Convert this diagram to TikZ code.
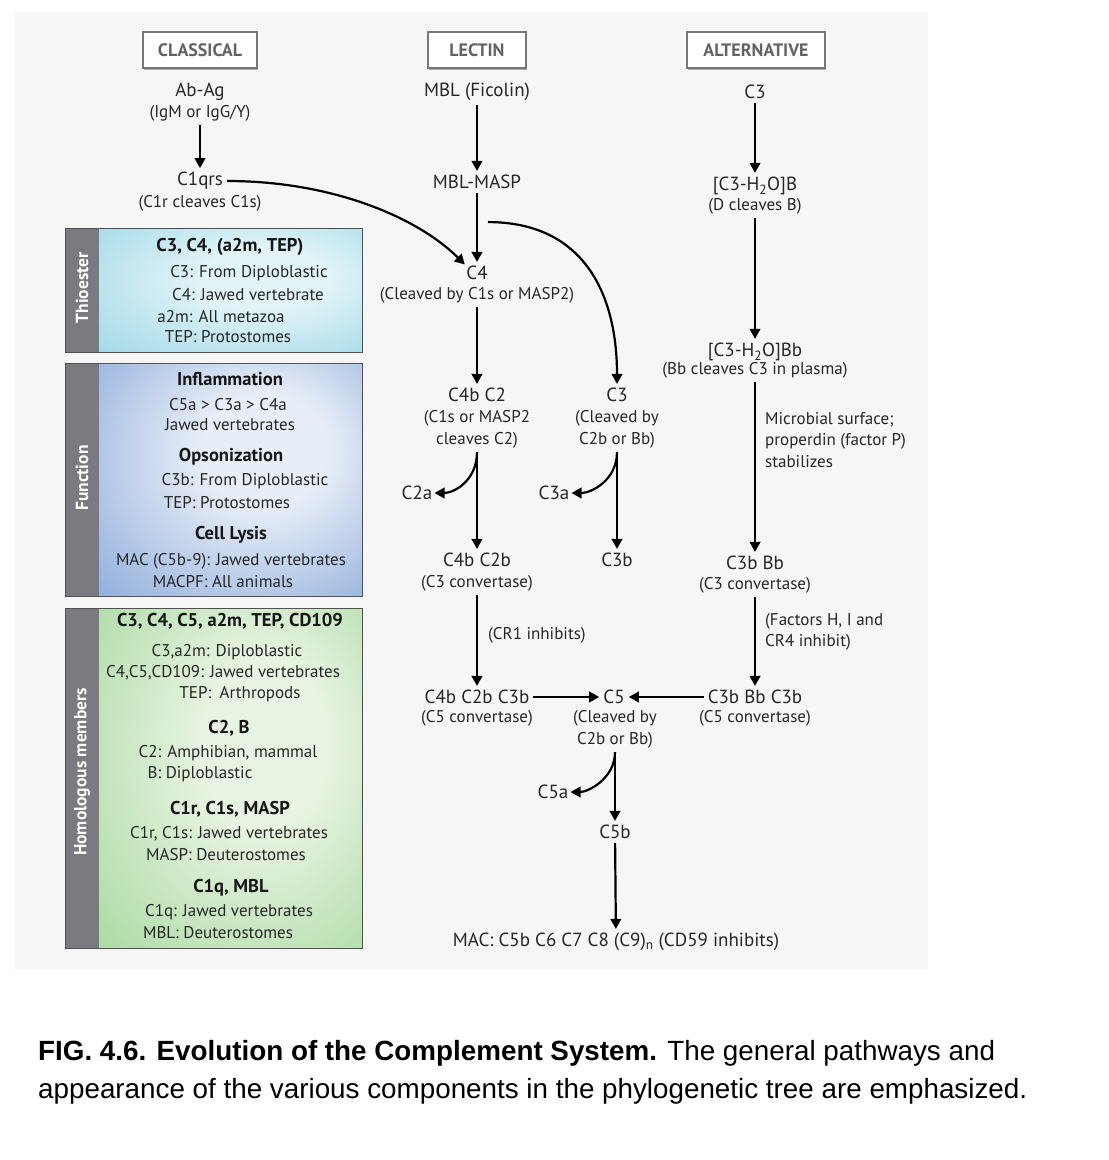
\documentclass[tikz,border=0pt]{standalone}
\usepackage{fontspec}
\setmainfont{PT Sans}
\newfontfamily\captionfont{Liberation Sans}
\usetikzlibrary{arrows.meta,shadows}

\definecolor{ink}{HTML}{262626}
\definecolor{titleink}{HTML}{161616}
\definecolor{hdrink}{HTML}{636363}
\definecolor{hdrline}{HTML}{777777}
\definecolor{panelbg}{HTML}{F6F6F6}
\definecolor{stripgray}{HTML}{7A7A80}
\definecolor{boxline}{HTML}{505050}
\definecolor{thioEdge}{HTML}{6CC3DB}
\definecolor{thioCore}{HTML}{E2F4F8}
\definecolor{funcEdge}{HTML}{4A7BC4}
\definecolor{funcCore}{HTML}{E8EEF8}
\definecolor{homEdge}{HTML}{78C56E}
\definecolor{homCore}{HTML}{E8F4E2}
\colorlet{thioMid}{thioEdge!55!thioCore}
\colorlet{funcMid}{funcEdge!55!funcCore}
\colorlet{homMid}{homEdge!55!homCore}

% soft glow: pale core, saturated rim
\pgfdeclareradialshading{thioglow}{\pgfpoint{8bp}{6bp}}{color(0bp)=(thioCore); color(12bp)=(thioCore); color(40bp)=(thioMid); color(64bp)=(thioEdge)}
\pgfdeclareradialshading{funcglow}{\pgfpoint{8bp}{8bp}}{color(0bp)=(funcCore); color(12bp)=(funcCore); color(40bp)=(funcMid); color(64bp)=(funcEdge)}
\pgfdeclareradialshading{homglow}{\pgfpoint{8bp}{6bp}}{color(0bp)=(homCore); color(12bp)=(homCore); color(40bp)=(homMid); color(64bp)=(homEdge)}

\begin{document}
\begin{tikzpicture}[x=1pt,y=-1pt,
  mainlbl/.style={font=\fontsize{19}{22}\selectfont, text=ink, inner sep=0pt},
  sublbl/.style={font=\fontsize{17}{22}\selectfont, text=ink, inner sep=0pt, align=center},
  sidenote/.style={font=\fontsize{17}{21.5}\selectfont, text=ink, inner sep=0pt, align=left, anchor=west},
  hdrbox/.style={draw=hdrline, line width=1.1pt, fill=white, text=hdrink,
    font=\fontsize{18}{20}\selectfont\bfseries, minimum height=36pt, inner sep=0pt,
    drop shadow={shadow xshift=1.2pt, shadow yshift=-1.5pt, opacity=0.3, fill=black}},
  flow/.style={draw=black, line width=2.2pt, -{Triangle[length=10pt,width=10.5pt]},
    shorten <=4pt, shorten >=4pt},
  boxtxt/.style={font=\fontsize{17}{20}\selectfont, text=ink, inner sep=0pt},
  boxttl/.style={font=\fontsize{18.5}{20}\selectfont\bfseries, text=titleink, inner sep=0pt},
  sidelbl/.style={font=\fontsize{17.5}{20}\selectfont\bfseries, text=white, inner sep=0pt, rotate=90},
  capline/.style={font=\captionfont\fontsize{27.8}{32}\selectfont, text=black, inner sep=0pt, anchor=base west}
]
\useasboundingbox (0,0) rectangle (1109,1160);
\fill[white] (0,0) rectangle (1109,1160);
\fill[panelbg] (15,12) rectangle (928,970);

% ---------- left information panels ----------
\shade[shading=thioglow] (99,228) rectangle (362,352);
\fill[stripgray] (65,228) rectangle (99,352);
\draw[draw=boxline, line width=1pt] (65,228) rectangle (362,352);

\shade[shading=funcglow] (99,363) rectangle (362,596);
\fill[stripgray] (65,363) rectangle (99,596);
\draw[draw=boxline, line width=1pt] (65,363) rectangle (362,596);

\shade[shading=homglow] (99,608) rectangle (362,948);
\fill[stripgray] (65,608) rectangle (99,948);
\draw[draw=boxline, line width=1pt] (65,608) rectangle (362,948);

\node[sidelbl] (sthio) at (82,288) {Thioester};
\node[sidelbl] (sfunc) at (82,478) {Function};
\node[sidelbl] (shom) at (82,772) {Homologous members};

\node[boxttl] (t0) at (230,247) {C3, C4, (a2m, TEP)};
\node[boxtxt] (t1) at (249,273) {C3: From Diploblastic};
\node[boxtxt] (t2) at (248,295) {C4: Jawed vertebrate};
\node[boxtxt] (t3) at (221,317) {a2m: All metazoa};
\node[boxtxt] (t4) at (228,337) {TEP: Protostomes};

\node[boxttl] (f0) at (230,379) {Inflammation};
\node[boxtxt] (f1) at (228,405) {C5a > C3a > C4a};
\node[boxtxt] (f2) at (230,425) {Jawed vertebrates};
\node[boxttl] (f3) at (231,457) {Opsonization};
\node[boxtxt] (f4) at (245,481) {C3b: From Diploblastic};
\node[boxtxt] (f5) at (227,503) {TEP: Protostomes};
\node[boxttl] (f6) at (231,535) {Cell Lysis};
\node[boxtxt] (f7) at (231,561) {MAC (C5b-9): Jawed vertebrates};
\node[boxtxt] (f8) at (223,582) {MACPF: All animals};

\node[boxttl] (h0) at (230,621) {C3, C4, C5, a2m, TEP, CD109};
\node[boxtxt] (h1) at (227,652) {C3,a2m: Diploblastic};
\node[boxtxt] (h2) at (223,673) {C4,C5,CD109: Jawed vertebrates};
\node[boxtxt] (h3) at (240,694) {TEP:\enspace Arthropods};
\node[boxttl] (h4) at (229,728) {C2, B};
\node[boxtxt] (h5) at (228,753) {C2: Amphibian, mammal};
\node[boxtxt] (h6) at (200,774) {B: Diploblastic};
\node[boxttl] (h7) at (230,809) {C1r, C1s, MASP};
\node[boxtxt] (h8) at (229,834) {C1r, C1s: Jawed vertebrates};
\node[boxtxt] (h9) at (226,855) {MASP: Deuterostomes};
\node[boxttl] (h10) at (231,888) {C1q, MBL};
\node[boxtxt] (h11) at (229,912) {C1q: Jawed vertebrates};
\node[boxtxt] (h12) at (218,933) {MBL: Deuterostomes};

% ---------- pathway headers ----------
\node[hdrbox, minimum width=114pt] (hcl) at (200,50) {CLASSICAL};
\node[hdrbox, minimum width=98pt] (hle) at (477,50) {LECTIN};
\node[hdrbox, minimum width=138pt] (hal) at (756,50) {ALTERNATIVE};

% ---------- classical pathway ----------
\node[mainlbl] (abag) at (200,92) {Ab-Ag};
\node[sublbl] (abagS) at (200,113) {(IgM or IgG/Y)};
\node[mainlbl] (c1qrs) at (200,181) {C1qrs};
\node[sublbl] (c1qrsS) at (200,203) {(C1r cleaves C1s)};

% ---------- lectin pathway ----------
\node[mainlbl] (mbl) at (477,92) {MBL (Ficolin)};
\node[mainlbl] (masp) at (477,182) {MBL-MASP};
\node[mainlbl] (c4) at (477,273) {C4};
\node[sublbl] (c4S) at (477,295) {(Cleaved by C1s or MASP2)};
\node[mainlbl] (c4bc2) at (477,395) {C4b C2};
\node[sublbl] (c4bc2S) at (477,429) {(C1s or MASP2\\cleaves C2)};
\node[mainlbl] (c2a) at (417,493) {C2a};
\node[mainlbl] (c4bc2b) at (477,560) {C4b C2b};
\node[sublbl] (c4bc2bS) at (477,583) {(C3 convertase)};
\node[sublbl, anchor=west] (cr1) at (488,635) {(CR1 inhibits)};
\node[mainlbl] (c4bc2bc3b) at (477,697) {C4b C2b C3b};
\node[sublbl] (c4bc2bc3bS) at (477,718) {(C5 convertase)};

\node[mainlbl] (c3l) at (617,395) {C3};
\node[sublbl] (c3lS) at (617,429) {(Cleaved by\\C2b or Bb)};
\node[mainlbl] (c3a) at (554,493) {C3a};
\node[mainlbl] (c3b) at (617,560) {C3b};

% ---------- alternative pathway ----------
\node[mainlbl] (c3alt) at (755,92) {C3};
\node[mainlbl] (c3h2ob) at (755,186) {[C3-H\textsubscript{2}O]B};
\node[sublbl] (c3h2obS) at (755,206) {(D cleaves B)};
\node[mainlbl] (c3h2obb) at (755,352) {[C3-H\textsubscript{2}O]Bb};
\node[sublbl] (c3h2obbS) at (755,370) {(Bb cleaves C3 in plasma)};
\node[sidenote] (microbe) at (765,440) {Microbial surface;\\properdin (factor P)\\stabilizes};
\node[mainlbl] (c3bbb) at (755,563) {C3b Bb};
\node[sublbl] (c3bbbS) at (755,585) {(C3 convertase)};
\node[sidenote] (factors) at (765,632) {(Factors H, I and\\CR4 inhibit)};
\node[mainlbl] (c3bbbc3b) at (755,697) {C3b Bb C3b};
\node[sublbl] (c3bbbc3bS) at (755,718) {(C5 convertase)};

% ---------- terminal pathway ----------
\node[mainlbl] (c5) at (614,697) {C5};
\node[sublbl] (c5S) at (615,729) {(Cleaved by\\C2b or Bb)};
\node[mainlbl] (c5a) at (553,792) {C5a};
\node[mainlbl] (c5b) at (615,832) {C5b};
\node[mainlbl] (mac) at (616,942) {MAC: C5b C6 C7 C8 (C9)\textsubscript{n} (CD59 inhibits)};

% branch points
\coordinate (lsplit) at ([xshift=11pt,yshift=-33pt]masp.south);
\coordinate (c2fork) at ([yshift=-4pt]c4bc2S.south);
\coordinate (c3fork) at ([yshift=-4pt]c3lS.south);
\coordinate (c5fork) at ([yshift=-4pt]c5S.south);

% ---------- connectors ----------
\draw[flow] (abagS) -- (c1qrs);
\draw[flow] (mbl) -- (masp);
\draw[flow] (masp) -- (c4);
\draw[flow] (c4S) -- (c4bc2);
\draw[flow, shorten <=0pt] (c2fork) -- (c4bc2b);
\draw[flow, shorten <=0pt] (c3fork) -- (c3b);
\draw[flow] (c4bc2bS) -- (c4bc2bc3b);
\draw[flow] (c4bc2bc3b) -- (c5);
\draw[flow] (c3bbbc3b) -- (c5);
\draw[flow, shorten <=0pt] (c5fork) -- (c5b);
\draw[flow] (c5b) -- (mac);
\draw[flow] (c3alt) -- (c3h2ob);
\draw[flow] (c3h2obS) -- (c3h2obb);
\draw[flow] (c3h2obbS) -- (c3bbb);
\draw[flow] (c3bbbS) -- (c3bbbc3b);

\draw[flow, shorten >=2pt] (c1qrs.east) .. controls +(110,0) and +(-48,-48) .. (c4.north west);
\draw[flow, shorten <=0pt] (lsplit) .. controls +(95,0) and +(0,-95) .. (c3l.north);
\draw[flow, shorten <=0pt, shorten >=2pt] (c2fork) .. controls +(0,28) and +(22,0) .. (c2a.east);
\draw[flow, shorten <=0pt, shorten >=2pt] (c3fork) .. controls +(0,28) and +(22,0) .. (c3a.east);
\draw[flow, shorten <=0pt, shorten >=2pt] (c5fork) .. controls +(0,26) and +(20,0) .. (c5a.east);

% ---------- caption ----------
\node[capline] (cap1) at (38,1060) {{\bfseries FIG. 4.6. Evolution of the Complement System.} The general pathways and};
\node[capline] (cap2) at (38,1098) {appearance of the various components in the phylogenetic tree are emphasized.};
\end{tikzpicture}
\end{document}
